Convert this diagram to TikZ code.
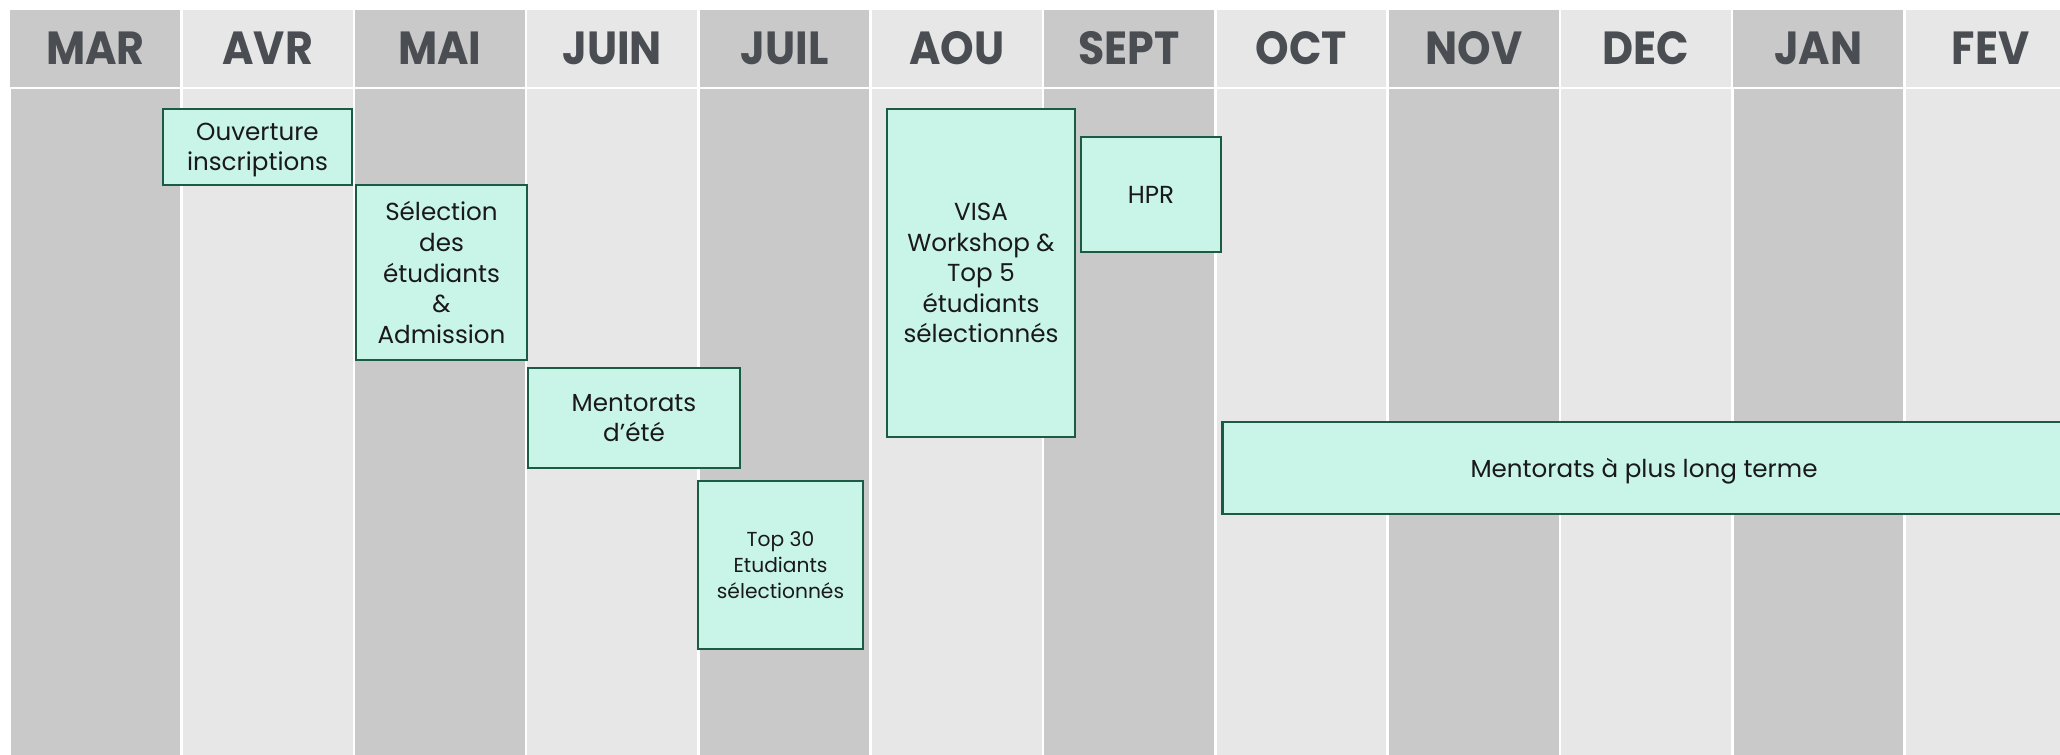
\documentclass[tikz,border=0pt]{standalone}
\usepackage{fontspec}
\setmainfont{Poppins}
\newfontfamily\moisfont[FakeStretch=0.92]{Poppins}
\definecolor{moisfonce}{HTML}{C9C9C9}
\definecolor{moisclair}{HTML}{E7E7E7}
\definecolor{moistexte}{HTML}{4A4E53}
\definecolor{etapefond}{HTML}{C9F4E8}
\definecolor{etapebord}{HTML}{1B5A43}
\tikzset{
  mois/.style={minimum width=1.697cm, minimum height=0.762cm, inner sep=0pt,
    text=moistexte, font=\moisfont\fontsize{13.2}{14}\selectfont\bfseries},
  fonce/.style={mois, fill=moisfonce},
  clair/.style={mois, fill=moisclair},
  etape/.style={draw=etapebord, fill=etapefond, line width=0.75pt, inner sep=0pt,
    align=center, text=black!90, font=\fontsize{7}{8.7}\selectfont,
    text depth=-2.4pt},
}
\begin{document}
\begin{tikzpicture}[x=0.01cm, y=-0.01cm]
  \useasboundingbox (0,0) rectangle (2060,755);
  \clip (0,0) rectangle (2060,755);
  % colonnes
  \fill[moisfonce] (10.5,89.3) rectangle +(169.7,666);
  \fill[moisclair] (182.8,89.3) rectangle +(169.7,666);
  \fill[moisfonce] (355.1,89.3) rectangle +(169.7,666);
  \fill[moisclair] (527.4,89.3) rectangle +(169.7,666);
  \fill[moisfonce] (699.7,89.3) rectangle +(169.7,666);
  \fill[moisclair] (872.0,89.3) rectangle +(169.7,666);
  \fill[moisfonce] (1044.3,89.3) rectangle +(169.7,666);
  \fill[moisclair] (1216.6,89.3) rectangle +(169.7,666);
  \fill[moisfonce] (1388.9,89.3) rectangle +(169.7,666);
  \fill[moisclair] (1561.2,89.3) rectangle +(169.7,666);
  \fill[moisfonce] (1733.5,89.3) rectangle +(169.7,666);
  \fill[moisclair] (1905.8,89.3) rectangle +(169.7,666);
  % mois
  \path
    (95.35,48.6) node[fonce] (mar) {MAR}
    (267.65,48.6) node[clair] (avr) {AVR}
    (439.95,48.6) node[fonce] (mai) {MAI}
    (612.25,48.6) node[clair] (juin) {JUIN}
    (784.55,48.6) node[fonce] (juil) {JUIL}
    (956.85,48.6) node[clair] (aou) {AOU}
    (1129.15,48.6) node[fonce] (sept) {SEPT}
    (1301.45,48.6) node[clair] (oct) {OCT}
    (1473.75,48.6) node[fonce] (nov) {NOV}
    (1646.05,48.6) node[clair] (dec) {DEC}
    (1818.35,48.6) node[fonce] (jan) {JAN}
    (1990.65,48.6) node[clair] (fev) {FEV};
  % etapes
  \path
    (257.5,147) node[etape, minimum width=1.89cm, minimum height=0.76cm] (ouverture)
      {Ouverture\\inscriptions}
    (441.5,272.5) node[etape, minimum width=1.71cm, minimum height=1.75cm] (selection)
      {Sélection\\des\\étudiants\\\&\\Admission}
    (634,418) node[etape, minimum width=2.12cm, minimum height=1.0cm] (ete)
      {Mentorats\\d’été}
    (780.5,565) node[etape, minimum width=1.65cm, minimum height=1.68cm,
      font=\fontsize{5.75}{7.4}\selectfont] (top30)
      {Top 30\\Etudiants\\sélectionnés}
    (981,273) node[etape, minimum width=1.88cm, minimum height=3.28cm] (visa)
      {VISA\\Workshop \&\\Top 5\\étudiants\\sélectionnés}
    (1151,194.5) node[etape, minimum width=1.4cm, minimum height=1.15cm] (hpr) {HPR}
    (1644,468) node[etape, minimum width=8.42cm, minimum height=0.92cm] (longterme)
      {Mentorats à plus long terme};
\end{tikzpicture}
\end{document}
